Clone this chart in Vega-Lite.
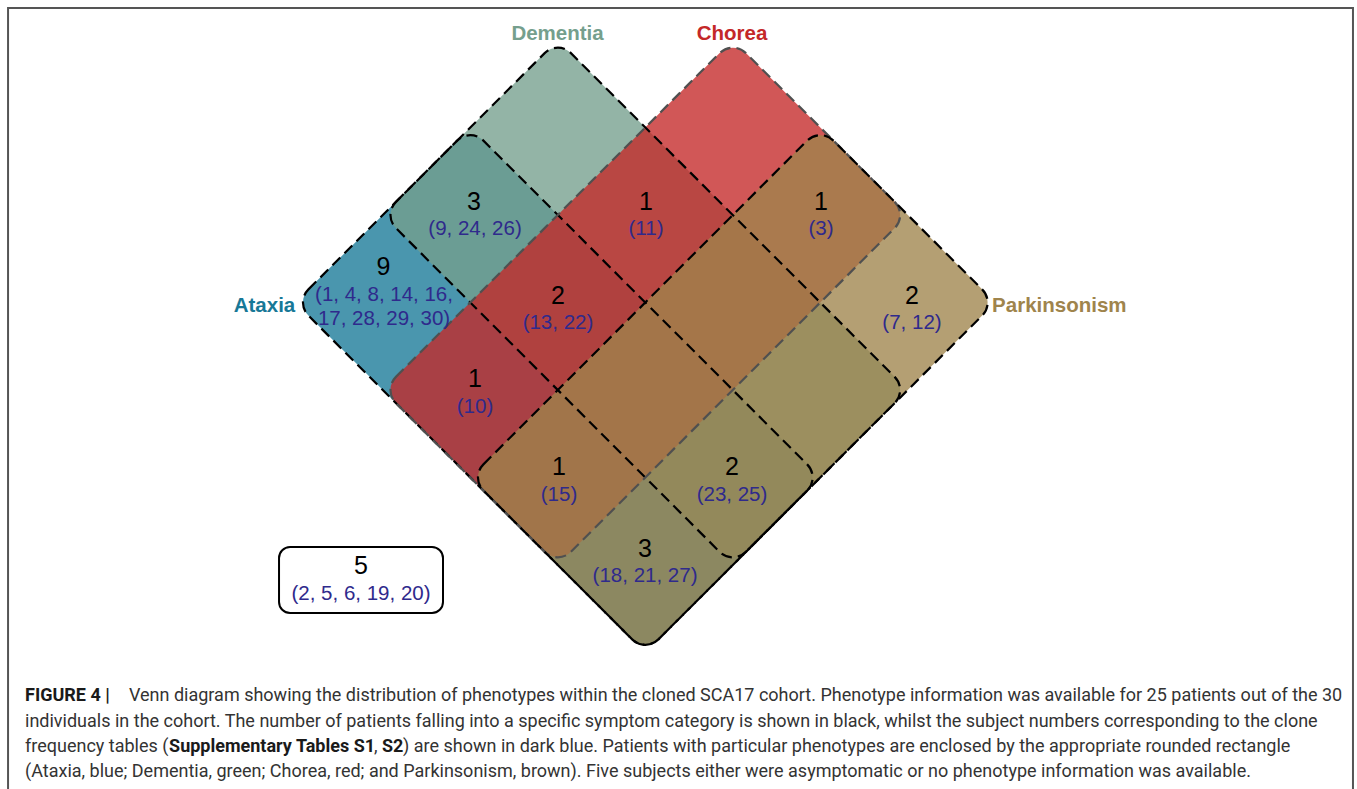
{
  "$schema": "https://vega.github.io/schema/vega-lite/v6.json",
  "width": 1357,
  "height": 789,
  "autosize": {"type": "none"},
  "padding": 0,
  "background": "white",
  "config": {"view": {"stroke": null}},
  "datasets": {
    "sets": [
      {"set": "Ataxia", "form": "long-b", "x": 2, "y": 1},
      {"set": "Dementia", "form": "long-b", "x": 3, "y": 0},
      {"set": "Chorea", "form": "long-a", "x": 3, "y": 0},
      {"set": "Parkinsonism", "form": "long-a", "x": 4, "y": 1}
    ],
    "setlabels": [
      {"set": "Dementia", "x": 1.997, "y": -3.069},
      {"set": "Chorea", "x": 3.991, "y": -3.069},
      {"set": "Ataxia", "x": -1.352, "y": 0.04},
      {"set": "Parkinsonism", "x": 7.732, "y": 0.04}
    ],
    "counts": [
      {"label": "3", "x": 1.042, "y": -1.149},
      {"label": "1", "x": 3.008, "y": -1.149},
      {"label": "1", "x": 5.008, "y": -1.149},
      {"label": "9", "x": 0.008, "y": -0.406},
      {"label": "2", "x": 2.002, "y": -0.074},
      {"label": "2", "x": 6.048, "y": -0.074},
      {"label": "1", "x": 1.054, "y": 0.874},
      {"label": "1", "x": 2.014, "y": 1.88},
      {"label": "2", "x": 3.991, "y": 1.88},
      {"label": "3", "x": 2.997, "y": 2.817},
      {"label": "5", "x": -0.249, "y": 3.011}
    ],
    "subjects": [
      {"label": "(9, 24, 26)", "x": 1.054, "y": -0.84},
      {"label": "(11)", "x": 3.008, "y": -0.84},
      {"label": "(3)", "x": 5.008, "y": -0.84},
      {"label": "(1, 4, 8, 14, 16,", "x": 0.014, "y": -0.086},
      {"label": "17, 28, 29, 30)", "x": 0.014, "y": 0.189},
      {"label": "(13, 22)", "x": 2.002, "y": 0.234},
      {"label": "(7, 12)", "x": 6.048, "y": 0.234},
      {"label": "(10)", "x": 1.054, "y": 1.194},
      {"label": "(15)", "x": 2.014, "y": 2.2},
      {"label": "(23, 25)", "x": 3.991, "y": 2.2},
      {"label": "(18, 21, 27)", "x": 2.997, "y": 3.126},
      {"label": "(2, 5, 6, 19, 20)", "x": -0.249, "y": 3.331}
    ],
    "box": [{"x": -1.186, "x2": 0.688, "y": 2.794, "y2": 3.549}],
    "frame": [{"x": -4.283, "x2": 11.088, "y": -3.366, "y2": 5.7}],
    "caption": [
      {"x": -2.901, "y": 4.492, "text": "Venn diagram showing the distribution of phenotypes within the cloned SCA17 cohort. Phenotype information was available for 25 patients out of the 30"},
      {"x": -4.089, "y": 4.789, "text": "individuals in the cohort. The number of patients falling into a specific symptom category is shown in black, whilst the subject numbers corresponding to the clone"},
      {"x": -4.089, "y": 5.08, "text": "frequency tables ("},
      {"x": -0.101, "y": 5.08, "text": ","},
      {"x": 0.231, "y": 5.08, "text": ") are shown in dark blue. Patients with particular phenotypes are enclosed by the appropriate rounded rectangle"},
      {"x": -4.089, "y": 5.366, "text": "(Ataxia, blue; Dementia, green; Chorea, red; and Parkinsonism, brown). Five subjects either were asymptomatic or no phenotype information was available."}
    ],
    "captionbold": [
      {"x": -4.089, "y": 4.492, "text": "FIGURE 4 |"},
      {"x": -2.443, "y": 5.08, "text": "Supplementary Tables S1"},
      {"x": -0.009, "y": 5.08, "text": "S2"}
    ]
  },
  "encoding": {
    "x": {"field": "x", "type": "quantitative", "scale": {"domain": [-4.375, 11.134], "nice": false, "zero": false}, "axis": null},
    "y": {"field": "y", "type": "quantitative", "scale": {"domain": [-3.457, 5.56], "nice": false, "zero": false, "reverse": true}, "axis": null}
  },
  "layer": [
    {
      "data": {"name": "frame"},
      "mark": {"type": "rect", "filled": false, "stroke": "#555555", "strokeWidth": 2, "clip": false},
      "encoding": {
        "x2": {"field": "x2"},
        "y2": {"field": "y2"}
      }
    },
    {
      "data": {"name": "sets"},
      "mark": {"type": "point", "filled": true, "opacity": 1, "strokeWidth": 0},
      "encoding": {
        "fill": {"field": "set", "type": "nominal", "scale": {"domain": ["Ataxia", "Dementia", "Chorea", "Parkinsonism"], "range": ["#177897", "#759f8d", "#c42828", "#9f844c"]}, "legend": null},
        "fillOpacity": {"field": "set", "type": "nominal", "scale": {"domain": ["Ataxia", "Dementia", "Chorea", "Parkinsonism"], "range": [0.78, 0.78, 0.8, 0.78]}, "legend": null},
        "shape": {"field": "form", "type": "nominal", "scale": {"domain": ["long-b", "long-a"], "range": [
          "M-2.85,-1.15L-1.15,-2.85C-1.067,-2.933,-0.933,-2.933,-0.85,-2.85L2.85,0.85C2.933,0.933,2.933,1.067,2.85,1.15L1.15,2.85C1.067,2.933,0.933,2.933,0.85,2.85L-2.85,-0.85C-2.933,-0.933,-2.933,-1.067,-2.85,-1.15Z",
          "M-2.85,0.85L0.85,-2.85C0.933,-2.933,1.067,-2.933,1.15,-2.85L2.85,-1.15C2.933,-1.067,2.933,-0.933,2.85,-0.85L-0.85,2.85C-0.933,2.933,-1.067,2.933,-1.15,2.85L-2.85,1.15C-2.933,1.067,-2.933,0.933,-2.85,0.85Z"
        ]}, "legend": null},
        "size": {"value": 30625}
      }
    },
    {
      "data": {"name": "sets"},
      "mark": {"type": "point", "filled": false, "opacity": 1, "strokeWidth": 2.2, "strokeDash": [11, 6]},
      "encoding": {
        "stroke": {"field": "set", "type": "nominal", "scale": {"domain": ["Ataxia", "Dementia", "Chorea", "Parkinsonism"], "range": ["#000000", "#000000", "#505050", "#000000"]}, "legend": null},
        "shape": {"field": "form", "type": "nominal", "legend": null},
        "size": {"value": 30625}
      }
    },
    {
      "data": {"name": "box"},
      "mark": {"type": "rect", "fill": "white", "stroke": "black", "strokeWidth": 2, "cornerRadius": 11},
      "encoding": {
        "x2": {"field": "x2"},
        "y2": {"field": "y2"}
      }
    },
    {
      "data": {"name": "setlabels"},
      "mark": {"type": "text", "font": "Liberation Sans", "fontSize": 20.5, "fontWeight": "bold", "align": "center", "baseline": "middle"},
      "encoding": {
        "text": {"field": "set"},
        "fill": {"field": "set", "type": "nominal", "legend": null}
      }
    },
    {
      "data": {"name": "counts"},
      "mark": {"type": "text", "font": "Liberation Sans", "fontSize": 25, "color": "#000000", "align": "center", "baseline": "middle"},
      "encoding": {"text": {"field": "label"}}
    },
    {
      "data": {"name": "subjects"},
      "mark": {"type": "text", "font": "Liberation Sans", "fontSize": 20.5, "color": "#2f2a8c", "align": "center", "baseline": "middle"},
      "encoding": {"text": {"field": "label"}}
    },
    {
      "data": {"name": "caption"},
      "mark": {"type": "text", "font": "Roboto", "fontSize": 18, "color": "#333333", "align": "left", "baseline": "middle"},
      "encoding": {"text": {"field": "text"}}
    },
    {
      "data": {"name": "captionbold"},
      "mark": {"type": "text", "font": "Roboto", "fontSize": 18, "fontWeight": "bold", "color": "#1a1a1a", "align": "left", "baseline": "middle"},
      "encoding": {"text": {"field": "text"}}
    }
  ]
}
